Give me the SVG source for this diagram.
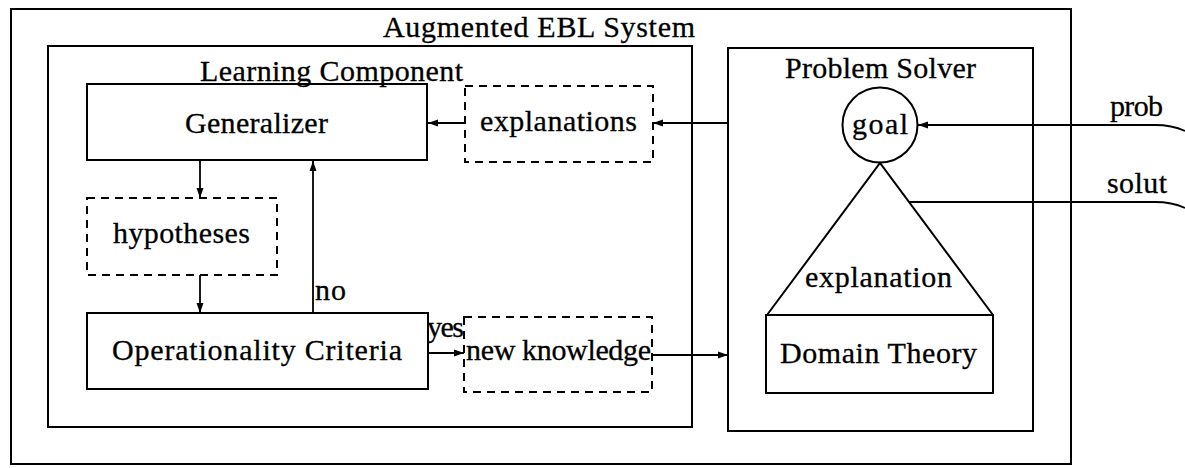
<svg xmlns="http://www.w3.org/2000/svg" width="1185" height="468" viewBox="0 0 1185 468">
  <style>
    .box { fill: none; stroke: #000; stroke-width: 2; }
    .dash { fill: none; stroke: #000; stroke-width: 2; stroke-dasharray: 8 6; }
    .line { fill: none; stroke: #000; stroke-width: 1.8; }
    .arr { fill: none; stroke: #000; stroke-width: 1.8; marker-end: url(#head); }
    text { font-family: "Liberation Serif", "DejaVu Serif", serif; font-size: 30px; fill: #000; stroke: #000; stroke-width: 0.3; }
  </style>
  <defs>
    <marker id="head" viewBox="0 0 10 8" refX="10" refY="4" markerWidth="10" markerHeight="8" markerUnits="userSpaceOnUse" orient="auto">
      <path d="M0,0.5 L10,4 L0,7.5 Z" fill="#000"/>
    </marker>
  </defs>

  <rect width="1185" height="468" fill="#fff"/>

  <g id="system">
    <rect class="box" x="11" y="9" width="1060" height="455"/>
    <text x="383" y="37" textLength="312" lengthAdjust="spacing">Augmented EBL System</text>
  </g>

  <g id="learning-component">
    <rect class="box" x="48" y="46" width="644" height="381"/>
    <text x="200" y="81" textLength="263" lengthAdjust="spacing">Learning Component</text>
  </g>

  <g id="generalizer">
    <rect class="box" x="87" y="84" width="340" height="76"/>
    <text x="185" y="133" textLength="143" lengthAdjust="spacing">Generalizer</text>
  </g>

  <g id="explanations">
    <rect class="dash" x="465" y="86" width="188" height="76"/>
    <text x="480" y="131" textLength="157" lengthAdjust="spacing">explanations</text>
  </g>

  <g id="hypotheses">
    <rect class="dash" x="87" y="198" width="190" height="77"/>
    <text x="113" y="243" textLength="137" lengthAdjust="spacing">hypotheses</text>
  </g>

  <g id="operationality-criteria">
    <rect class="box" x="87" y="313" width="341" height="76"/>
    <text x="112" y="360" textLength="290" lengthAdjust="spacing">Operationality Criteria</text>
  </g>

  <g id="new-knowledge">
    <rect class="dash" x="464" y="317" width="188" height="75"/>
    <text x="466" y="360" textLength="185" lengthAdjust="spacing">new knowledge</text>
  </g>

  <g id="problem-solver">
    <rect class="box" x="728" y="48" width="305" height="383"/>
    <text x="785" y="78" textLength="191" lengthAdjust="spacing">Problem Solver</text>
  </g>

  <g id="goal">
    <circle class="box" cx="880" cy="125" r="37.5"/>
    <text x="852" y="134" textLength="56" lengthAdjust="spacing">goal</text>
  </g>

  <g id="explanation-tree">
    <polyline class="box" points="767,315 880,163 993,315"/>
    <text x="805" y="287" textLength="147" lengthAdjust="spacing">explanation</text>
  </g>

  <g id="domain-theory">
    <rect class="box" x="766" y="315" width="227" height="78"/>
    <text x="780" y="363" textLength="197" lengthAdjust="spacing">Domain Theory</text>
  </g>

  <g id="connectors">
    <!-- Problem Solver -> explanations -> Generalizer -->
    <line class="arr" x1="728" y1="123" x2="653" y2="123"/>
    <line class="arr" x1="465" y1="123" x2="428" y2="123"/>
    <!-- Generalizer -> hypotheses -> Operationality Criteria -->
    <line class="arr" x1="200" y1="160" x2="200" y2="198"/>
    <line class="arr" x1="200" y1="275" x2="200" y2="313"/>
    <!-- "no" loop back up to Generalizer -->
    <line class="arr" x1="313" y1="313" x2="313" y2="161"/>
    <text x="315" y="300" textLength="31" lengthAdjust="spacing">no</text>
    <!-- "yes" -> new knowledge -> Problem Solver -->
    <line class="arr" x1="428" y1="353" x2="464" y2="353"/>
    <text x="427" y="337" textLength="37" lengthAdjust="spacing">yes</text>
    <line class="arr" x1="652" y1="355" x2="728" y2="355"/>
    <!-- external problem in, solution out -->
    <path class="arr" d="M1185,131 Q1172,125 1155,125 L918,125"/>
    <text x="1110" y="116" textLength="53" lengthAdjust="spacing">prob</text>
    <path class="line" d="M909,202 L1155,202 Q1172,202 1185,208"/>
    <text x="1107" y="193" textLength="60" lengthAdjust="spacing">solut</text>
  </g>
</svg>
